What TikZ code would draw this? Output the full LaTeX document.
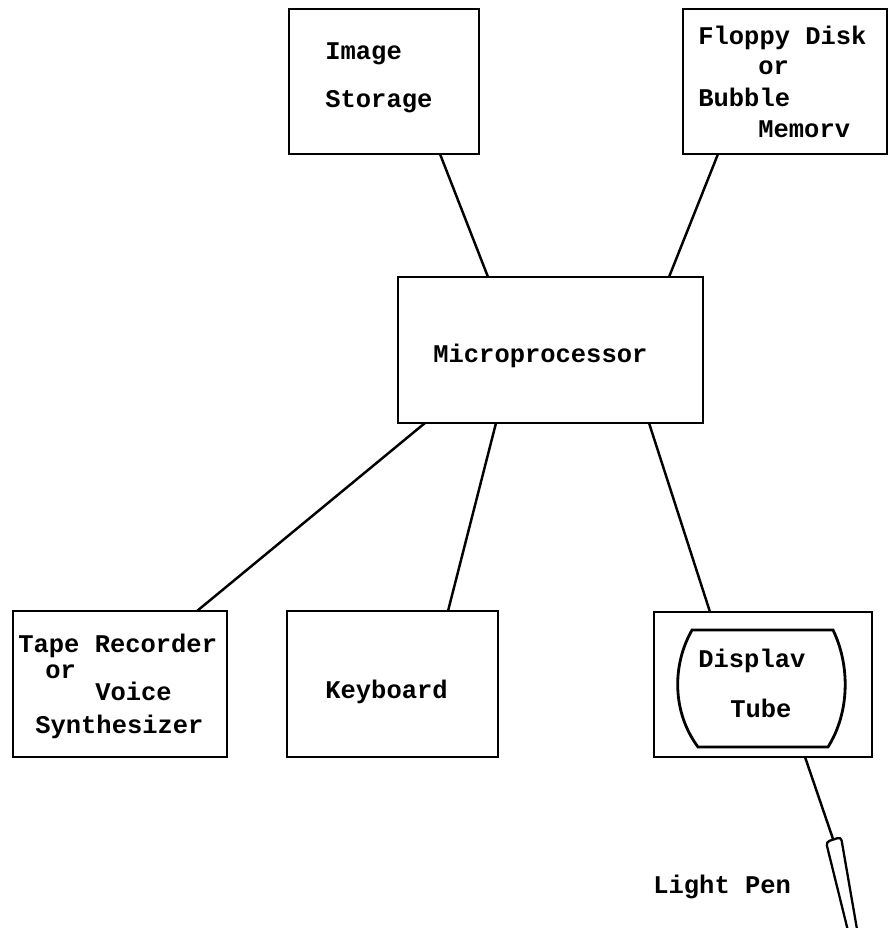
\documentclass[tikz,border=0pt]{standalone}
\usepackage{fontspec}
\usetikzlibrary{calc}
\newfontfamily\typer{Liberation Mono}

\begin{document}
\begin{tikzpicture}[x=0.02cm,y=-0.02cm,
    box/.style 2 args={draw, line width=1.6pt, inner sep=0pt, outer sep=0pt,
        minimum width=#1*0.02cm, minimum height=#2*0.02cm},
    lbl/.style={anchor=base west, inner sep=0pt,
        font=\typer\bfseries\fontsize{14.5}{17}\selectfont},
    wire/.style={line width=1.4pt}]
    \useasboundingbox (0,0) rectangle (890,928);

    % the boxes
    \node[box={190}{145}] (img) at (384,81.5) {};
    \node[box={204}{145}] (disk) at (785,81.5) {};
    \node[box={305}{146}] (mpu) at (550.5,350) {};
    \node[box={214}{146}] (tape) at (120,684) {};
    \node[box={211}{146}] (keys) at (392.5,684) {};
    \node[box={218}{145}] (tv) at (763,684.5) {};

    % screen inside the display
    \draw[line width=1.6pt] (692,630) -- (833,630)
        .. controls (850,665) and (850,712) .. (828,747) -- (698,747)
        .. controls (672,712) and (672,665) .. (692,630) -- cycle;

    % pen
    \coordinate (pen) at (833,839);
    \draw[line width=1.3pt, rounded corners=2pt] (849,935) -- (826,842) -- (841,837) -- (858,935);

    % labels
    \node[lbl] (imgA) at (325,60) {Image};
    \node[lbl] (imgB) at (325,108) {Storage};
    \node[lbl] (diskA) at (698,45) {Floppy Disk};
    \node[lbl] (diskB) at (758,75) {or};
    \node[lbl] (diskC) at (698,107) {Bubble};
    \node[lbl] (diskD) at (758,138) {Memorv};
    \node[lbl] (mpuA) at (433,363) {Microprocessor};
    \node[lbl] (tapeA) at (18,652) {Tape Recorder};
    \node[lbl] (tapeB) at (45,678) {or};
    \node[lbl] (tapeC) at (95,700) {Voice};
    \node[lbl] (tapeD) at (35,733) {Synthesizer};
    \node[lbl] (keysA) at (325,698) {Keyboard};
    \node[lbl] (tvA) at (698,667) {Displav};
    \node[lbl] (tvB) at (730,717) {Tube};
    \node[lbl] (penA) at (653,893) {Light Pen};

    % connections
    \draw[wire] ($(img.south west)+(151,0)$) -- ($(mpu.north west)+(90,0)$);
    \draw[wire] ($(disk.south west)+(35,0)$) -- ($(mpu.north west)+(271,0)$);
    \draw[wire] ($(mpu.south west)+(27,0)$) -- ($(tape.north west)+(184,0)$);
    \draw[wire] ($(mpu.south west)+(98,0)$) -- ($(keys.north west)+(161,0)$);
    \draw[wire] ($(mpu.south west)+(251,0)$) -- ($(tv.north west)+(56,0)$);
    \draw[wire] ($(tv.south west)+(151,0)$) -- (pen);
\end{tikzpicture}
\end{document}
